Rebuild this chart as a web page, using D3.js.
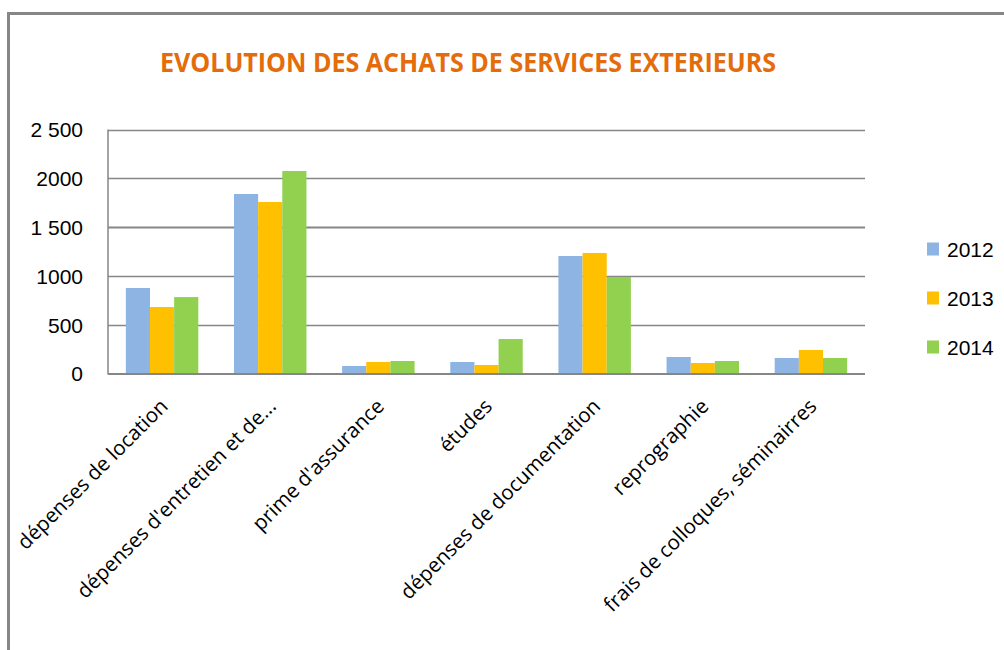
<!DOCTYPE html>
<html><head><meta charset="utf-8">
<script src="https://cdn.jsdelivr.net/npm/d3@7"></script>
<style>html,body{margin:0;padding:0;background:#fff;overflow:hidden}</style>
</head><body>
<svg id="c" width="1004" height="650"></svg>
<script>
const categories = ["dépenses de location","dépenses d'entretien et de...","prime d'assurance","études","dépenses de documentation","reprographie","frais de colloques, séminairres"];
const seriesNames = ["2012","2013","2014"];
const values2012 = [876,1839,77,118,1204,169,159];
const values2013 = [681,1757,118,87,1235,108,241];
const values2014 = [783,2075,128,353,989,128,159];
const tickValues = [0,500,1000,1500,2000,2500];
const tickLabels = ["0","500","1000","1 500","2000","2 500"];
const colors = ["#8EB4E3","#FFC000","#92D050"];
const title = "EVOLUTION DES ACHATS DE SERVICES EXTERIEURS";

const series = [values2012, values2013, values2014];
const svg = d3.select("#c");
const m = {left:108, right:865, top:129.5, bottom:373.5};

// frame
svg.append("rect").attr("x",8.5).attr("y",13.5).attr("width",1010).attr("height",700)
  .attr("fill","none").attr("stroke","#868686").attr("stroke-width",3);

// title
svg.append("text").attr("x",160).attr("y",72).text(title)
  .attr("fill","#E46C0A").attr("font-family","'Liberation Sans Narrow','Open Sans',sans-serif")
  .attr("font-weight","bold").attr("font-size",26)
  .attr("textLength",616).attr("lengthAdjust","spacingAndGlyphs");

const x0 = d3.scaleBand().domain(categories).range([m.left,m.right]).paddingInner(0).paddingOuter(0);
const groupW = x0.bandwidth()*0.67;
const x1 = d3.scaleBand().domain(seriesNames).range([0,groupW]);
const y = d3.scaleLinear().domain([0,2500]).range([m.bottom,m.top]);

// gridlines
svg.append("g").selectAll("line").data(tickValues.filter(v=>v>0)).join("line")
  .attr("x1",m.left).attr("x2",m.right)
  .attr("y1",d=>Math.round(y(d))+0.5).attr("y2",d=>Math.round(y(d))+0.5)
  .attr("stroke","#868686").attr("stroke-width",d=>d===1500?2:1.3);

// y axis labels
const yAxis = d3.axisLeft(y).tickValues(tickValues).tickFormat((d,i)=>tickLabels[i]).tickSize(0).tickPadding(25);
const ga = svg.append("g").attr("transform",`translate(${m.left},0)`).call(yAxis);
ga.select(".domain").remove();
ga.selectAll("text").attr("font-family","'Liberation Sans',Arial,sans-serif").attr("font-size",21).attr("fill","#000").attr("dy","0.35em");

// bars
const g = svg.append("g");
categories.forEach((c,i)=>{
  const gx = x0(c) + (x0.bandwidth()-groupW)/2;
  series.forEach((s,j)=>{
    g.append("rect").attr("x",gx + x1(seriesNames[j])).attr("width",x1.bandwidth())
      .attr("y",y(s[i])).attr("height",y(0)-y(s[i])).attr("fill",colors[j]);
  });
});

// axes lines
svg.append("line").attr("x1",m.left).attr("x2",m.left).attr("y1",m.top).attr("y2",m.bottom+1)
  .attr("stroke","#868686").attr("stroke-width",1.5);
svg.append("line").attr("x1",m.left).attr("x2",m.right).attr("y1",m.bottom+0.5).attr("y2",m.bottom+0.5)
  .attr("stroke","#868686").attr("stroke-width",2);

// x labels
svg.append("g").selectAll("text").data(categories).join("text")
  .attr("transform",d=>`translate(${x0(d)+x0.bandwidth()/2+7},${m.bottom+34}) rotate(-45)`)
  .attr("text-anchor","end").attr("font-family","'Open Sans',sans-serif").attr("font-size",20.5)
  .attr("fill","#000").text(d=>d);

// legend
const lg = svg.append("g");
seriesNames.forEach((n,j)=>{
  const cy = 249 + j*49;
  lg.append("rect").attr("x",927).attr("y",cy-6.5).attr("width",12).attr("height",13).attr("fill",colors[j]);
  lg.append("text").attr("x",947).attr("y",cy+7.5).text(n)
    .attr("font-family","'Liberation Sans',Arial,sans-serif").attr("font-size",21).attr("fill","#000");
});
</script>
</body></html>
